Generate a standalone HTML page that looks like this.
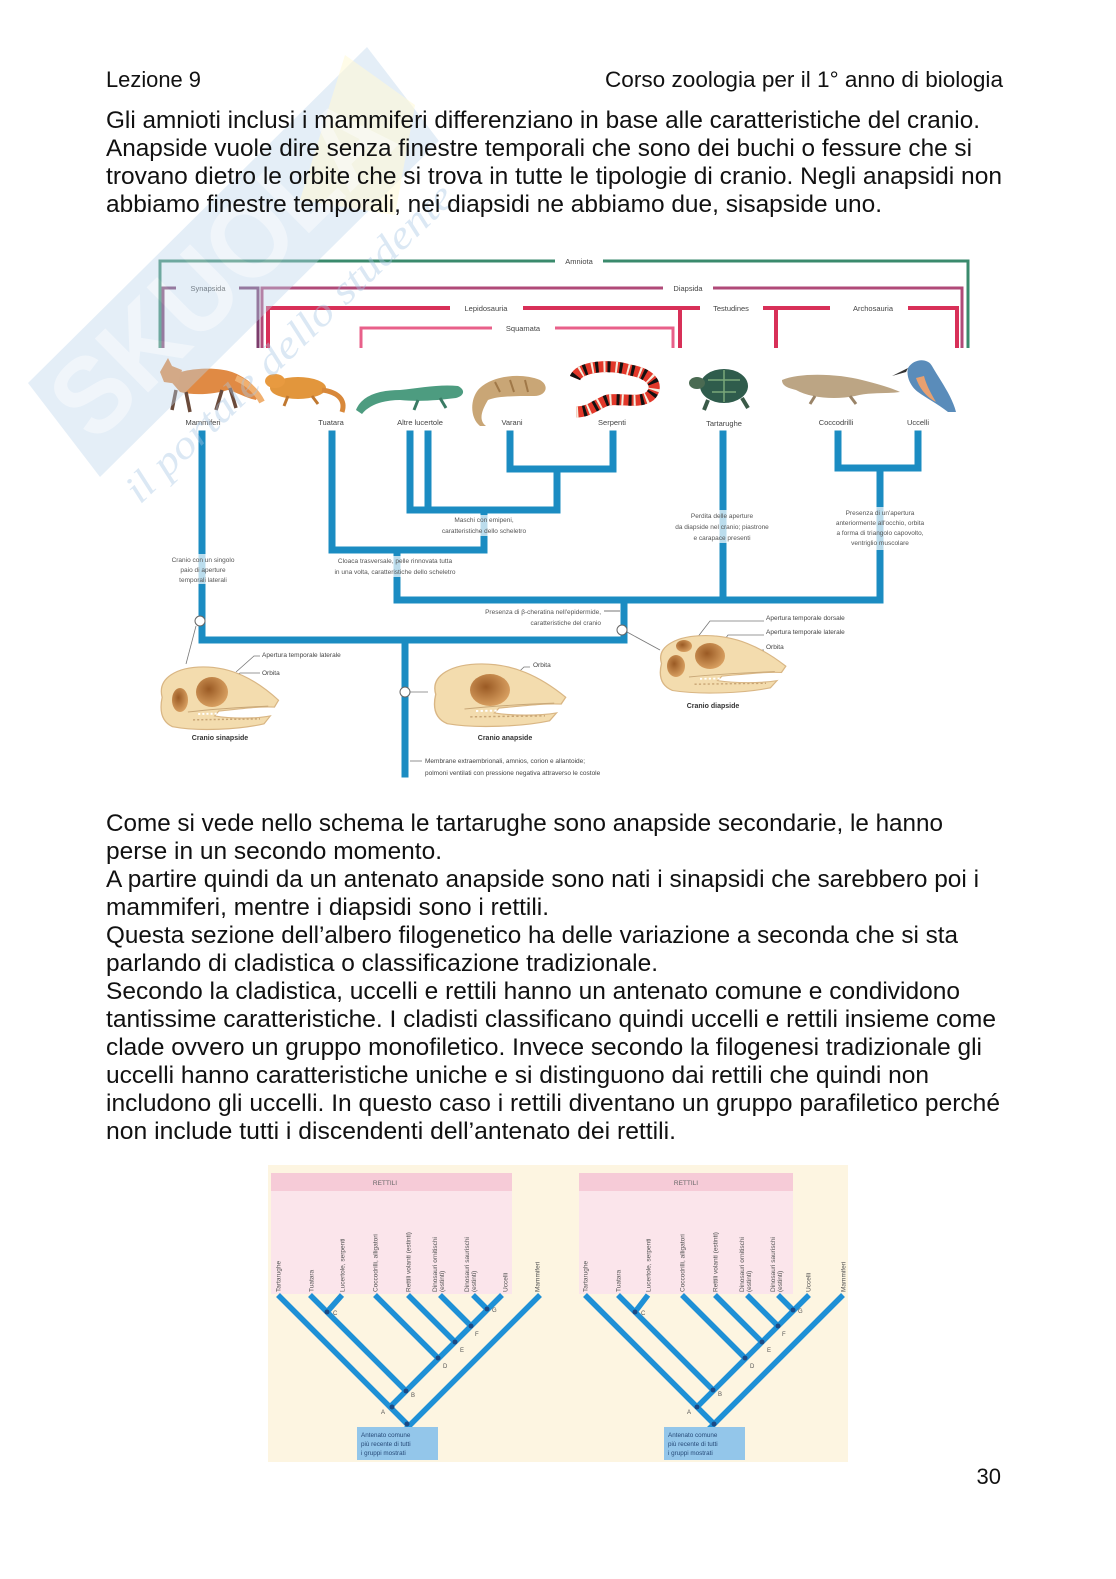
<!DOCTYPE html>
<html><head><meta charset="utf-8">
<style>
html,body{margin:0;padding:0;background:#fff;}
body{width:1116px;height:1579px;position:relative;overflow:hidden;}
svg{position:absolute;left:0;top:0;}
.t{font-family:"Liberation Sans",Arial,sans-serif;fill:#111;}
.s{font-family:"Liberation Sans",Arial,sans-serif;fill:#444;font-size:7.5px;}
.b{font-family:"Liberation Sans",Arial,sans-serif;fill:#333;font-size:7.5px;font-weight:bold;}
.c{font-family:"Liberation Sans",Arial,sans-serif;fill:#555;font-size:6.5px;}
</style></head>
<body>
<svg width="1116" height="1579" viewBox="0 0 1116 1579" xmlns="http://www.w3.org/2000/svg">
<defs>
<radialGradient id="orb" cx="0.4" cy="0.4" r="0.7">
<stop offset="0" stop-color="#9a5a24"/><stop offset="1" stop-color="#e0a868"/>
</radialGradient>
<g id="skull">
<path d="M5,35 C0,15 20,4 45,4 C72,4 95,16 118,38 L114,45 C100,44 80,47 60,49 L56,54 C72,57 95,57 110,54 L104,62 C80,68 40,70 15,65 C5,60 2,50 5,35 Z" fill="#f3dcae" stroke="#d9b684" stroke-width="1.2"/>
<path d="M30,50 C55,47 85,45 108,44" stroke="#c9a878" stroke-width="1" fill="none"/>
<path d="M40,52 L95,51" stroke="#fff" stroke-width="2" stroke-dasharray="2,2" fill="none"/>
<path d="M35,58 L100,57" stroke="#c8a474" stroke-width="1.5" stroke-dasharray="2,2" fill="none"/>
</g>
</defs>

<!-- ===== Diagram 1: brackets ===== -->
<g fill="none" stroke-linecap="butt">
<path d="M160,348 V261 H555 M603,261 H968 V348" stroke="#3a8a6c" stroke-width="3"/>
<path d="M163,348 V288 H176 M239,288 H258 V348" stroke="#7c3c6c" stroke-width="3"/>
<path d="M262,348 V288 H663 M713,288 H962 V348" stroke="#b04a78" stroke-width="3"/>
<path d="M268,348 V308 H450 M523,308 H680 V348" stroke="#d83058" stroke-width="4"/>
<path d="M361,348 V328 H492 M555,328 H673 V348" stroke="#e8608a" stroke-width="3"/>
<path d="M680,308 H700 M763,308 H830 M776,308 V348 M908,308 H957 V348" stroke="#d83058" stroke-width="4"/>
</g>
<text class="s" x="579" y="264" text-anchor="middle">Amniota</text>
<text class="s" x="208" y="291" text-anchor="middle">Synapsida</text>
<text class="s" x="688" y="291" text-anchor="middle">Diapsida</text>
<text class="s" x="486" y="311" text-anchor="middle">Lepidosauria</text>
<text class="s" x="523" y="331" text-anchor="middle">Squamata</text>
<text class="s" x="731" y="311" text-anchor="middle">Testudines</text>
<text class="s" x="873" y="311" text-anchor="middle">Archosauria</text>

<!-- animals -->
<g>
<path d="M168,378 C180,368 215,366 232,372 C248,378 262,390 256,400 C246,398 236,392 228,390 C215,394 195,396 180,392 Z" fill="#e08a44"/>
<path d="M160,372 L168,358 L172,366 L182,370 L178,384 L164,382 Z" fill="#e38c44"/>
<path d="M176,390 L172,410 M186,392 L190,412 M222,390 L216,410 M230,388 L236,408" stroke="#6a4a3a" stroke-width="3.5"/>
<path d="M236,378 C250,384 258,394 262,402" stroke="#f0b070" stroke-width="6" fill="none"/>
</g>
<g>
<ellipse cx="298" cy="388" rx="28" ry="11" fill="#e2963c"/>
<ellipse cx="275" cy="381" rx="10" ry="7" fill="#e89a40"/>
<path d="M322,390 C338,392 346,400 342,412" stroke="#d8883a" stroke-width="5" fill="none"/>
<path d="M288,396 L284,406 M312,396 L318,404" stroke="#c07830" stroke-width="3"/>
</g>
<g>
<path d="M356,410 C362,395 380,390 400,390 C420,388 440,384 458,386 C466,390 464,396 456,398 C440,400 420,402 400,400 C385,400 370,404 362,414 Z" fill="#4d9c80"/>
<path d="M418,400 L414,410 M440,398 L446,408" stroke="#3a7a64" stroke-width="3"/>
</g>
<g>
<path d="M478,390 C490,376 520,372 540,380 C550,386 546,396 534,396 C515,396 498,396 488,400 C482,410 478,420 486,426 L480,426 C470,418 470,400 478,390 Z" fill="#c9a676"/>
<path d="M495,382 L500,392 M510,380 L514,392 M525,380 L528,392" stroke="#a07848" stroke-width="2"/>
</g>
<g>
<path d="M575,378 C580,366 610,364 630,370 C652,374 660,386 650,396 C640,404 620,398 608,400 C596,404 590,412 576,412" stroke="#e2382a" stroke-width="11" fill="none"/>
<path d="M575,378 C580,366 610,364 630,370 C652,374 660,386 650,396 C640,404 620,398 608,400 C596,404 590,412 576,412" stroke="#111" stroke-width="11" fill="none" stroke-dasharray="3,9"/>
<path d="M575,378 C580,366 610,364 630,370 C652,374 660,386 650,396 C640,404 620,398 608,400 C596,404 590,412 576,412" stroke="#f4eee0" stroke-width="11" fill="none" stroke-dasharray="2,10" stroke-dashoffset="4"/>
</g>
<g>
<ellipse cx="724" cy="386" rx="24" ry="17" fill="#2f5c4c"/>
<path d="M708,380 L740,380 M712,392 L736,392 M724,370 L724,402" stroke="#7aa87a" stroke-width="1.5"/>
<ellipse cx="697" cy="383" rx="8" ry="6" fill="#4a6a52"/>
<path d="M708,400 L704,410 M742,398 L748,408" stroke="#3a5a48" stroke-width="4"/>
</g>
<g>
<path d="M782,380 C800,372 840,374 862,380 C878,384 892,388 900,392 C885,394 870,392 855,396 C835,400 810,398 796,390 C788,388 782,386 782,380 Z" fill="#bca584"/>
<path d="M815,396 L810,404 M850,396 L856,404" stroke="#9a8468" stroke-width="3"/>
</g>
<g>
<path d="M908,368 C914,358 928,358 932,366 C940,380 952,396 956,412 L948,412 C938,404 926,398 918,392 C910,386 906,376 908,368 Z" fill="#5a8cba"/>
<path d="M916,378 C920,390 928,398 936,402 C930,392 926,384 924,376 Z" fill="#e8a070"/>
<path d="M908,368 L892,376 L906,372 Z" fill="#333"/>
</g>

<g text-anchor="middle">
<text class="s" x="203" y="425">Mammiferi</text>
<text class="s" x="331" y="425">Tuatara</text>
<text class="s" x="420" y="425">Altre lucertole</text>
<text class="s" x="512" y="425">Varani</text>
<text class="s" x="612" y="425">Serpenti</text>
<text class="s" x="724" y="426">Tartarughe</text>
<text class="s" x="836" y="425">Coccodrilli</text>
<text class="s" x="918" y="425">Uccelli</text>
</g>

<!-- blue tree -->
<g stroke="#1b8cc2" stroke-width="7" fill="none" stroke-linecap="square">
<path d="M202,434 V640 H624 V601"/>
<path d="M332,434 V550 H484 V511"/>
<path d="M410,434 V510 H557 V470"/>
<path d="M428,434 V510"/>
<path d="M510,434 V469 H613 V434"/>
<path d="M397,550 V600 H880 V468"/>
<path d="M838,434 V468 H918 V434"/>
<path d="M723,434 V600"/>
<path d="M405,640 V774"/>
</g>

<g fill="#fff" opacity="0.7">
<rect x="160" y="554" width="88" height="30"/>
<rect x="300" y="556" width="190" height="21"/>
<rect x="415" y="515" width="140" height="21"/>
<rect x="650" y="510" width="145" height="33"/>
<rect x="808" y="507" width="145" height="43"/>
</g>
<g class="c" text-anchor="middle">
<text x="484" y="522">Maschi con emipeni,</text>
<text x="484" y="533">caratteristiche dello scheletro</text>
<text x="395" y="563">Cloaca trasversale, pelle rinnovata tutta</text>
<text x="395" y="574">in una volta, caratteristiche dello scheletro</text>
<text x="203" y="562">Cranio con un singolo</text>
<text x="203" y="572">paio di aperture</text>
<text x="203" y="582">temporali laterali</text>
<text x="722" y="518">Perdita delle aperture</text>
<text x="722" y="529">da diapside nel cranio; piastrone</text>
<text x="722" y="540">e carapace presenti</text>
<text x="880" y="515">Presenza di un'apertura</text>
<text x="880" y="525">anteriormente all'occhio, orbita</text>
<text x="880" y="535">a forma di triangolo capovolto,</text>
<text x="880" y="545">ventriglio muscolare</text>
</g>
<g class="c" text-anchor="end">
<text x="601" y="614">Presenza di β-cheratina nell'epidermide,</text>
<text x="601" y="625">caratteristiche del cranio</text>
</g>
<path d="M604,611 H620" stroke="#555" stroke-width="0.8"/>

<g fill="#fff" stroke="#666" stroke-width="1">
<circle cx="200" cy="621" r="5"/>
<circle cx="405" cy="692" r="5"/>
<circle cx="622" cy="630" r="5"/>
</g>
<g stroke="#777" stroke-width="0.8" fill="none">
<path d="M196,626 L186,664"/>
<path d="M410,692 H428"/>
<path d="M627,632 L660,650"/>
<path d="M236,672 L254,656 H260"/>
<path d="M218,686 L240,673 H260"/>
<path d="M500,690 L524,667 H530"/>
<path d="M680,660 L710,621 H764"/>
<path d="M706,665 L728,635 H764"/>
<path d="M722,668 L740,650 H764"/>
<path d="M410,761 H422"/>
</g>

<use href="#skull" transform="translate(157,663) scale(1.03,0.98)"/>
<ellipse cx="180" cy="700" rx="8" ry="12" fill="url(#orb)"/>
<ellipse cx="212" cy="692" rx="16" ry="15" fill="url(#orb)"/>
<use href="#skull" transform="translate(430,660) scale(1.15,0.98)"/>
<ellipse cx="490" cy="690" rx="20" ry="16" fill="url(#orb)"/>
<use href="#skull" transform="translate(656,632) scale(1.1,0.9)"/>
<ellipse cx="676" cy="666" rx="9" ry="11" fill="url(#orb)"/>
<ellipse cx="684" cy="646" rx="8" ry="6" fill="url(#orb)"/>
<ellipse cx="710" cy="656" rx="15" ry="13" fill="url(#orb)"/>

<g class="c" style="fill:#444">
<text x="262" y="657">Apertura temporale laterale</text>
<text x="262" y="675">Orbita</text>
<text x="533" y="667">Orbita</text>
<text x="766" y="620">Apertura temporale dorsale</text>
<text x="766" y="634">Apertura temporale laterale</text>
<text x="766" y="649">Orbita</text>
<text x="425" y="763">Membrane extraembrionali, amnios, corion e allantoide;</text>
<text x="425" y="775">polmoni ventilati con pressione negativa attraverso le costole</text>
</g>
<g text-anchor="middle">
<text class="b" x="220" y="740" style="font-size:7px">Cranio sinapside</text>
<text class="b" x="505" y="740" style="font-size:7px">Cranio anapside</text>
<text class="b" x="713" y="708" style="font-size:7px">Cranio diapside</text>
</g>

<!-- ===== Diagram 2 ===== -->
<rect x="268" y="1165" width="580" height="297" fill="#fdf5e1"/>
<rect x="271" y="1191" width="241" height="103" fill="#fbe5eb"/>
<rect x="271" y="1173" width="241" height="18" fill="#f6cbd7"/>
<rect x="579" y="1191" width="214" height="103" fill="#fbe5eb"/>
<rect x="579" y="1173" width="214" height="18" fill="#f6cbd7"/>
<text class="c" x="385" y="1185" text-anchor="middle" style="fill:#666">RETTILI</text>
<text class="c" x="686" y="1185" text-anchor="middle" style="fill:#666">RETTILI</text>

<g stroke="#1e90d6" stroke-width="5.5" fill="none">
<path d="M278,1295 L407,1424"/>
<path d="M540,1295 L396,1439"/>
<path d="M390,1407 L502,1295"/>
<path d="M310,1295 L406,1391"/>
<path d="M342,1295 L327,1312"/>
<path d="M375,1295 L438,1358"/>
<path d="M408,1295 L455,1342"/>
<path d="M440,1295 L471,1326"/>
<path d="M473,1295 L487,1309"/>

<path d="M585,1295 L714,1424"/>
<path d="M843,1295 L700,1438"/>
<path d="M697,1407 L809,1295"/>
<path d="M618,1295 L713,1390"/>
<path d="M648,1295 L635,1312"/>
<path d="M682,1295 L745,1358"/>
<path d="M715,1295 L762,1342"/>
<path d="M747,1295 L778,1326"/>
<path d="M778,1295 L793,1310"/>
</g>
<g fill="#1a4a86">
<circle cx="392" cy="1407" r="2.5"/><circle cx="406" cy="1391" r="2.5"/><circle cx="327" cy="1312" r="2.5"/>
<circle cx="438" cy="1358" r="2.5"/><circle cx="455" cy="1342" r="2.5"/><circle cx="471" cy="1326" r="2.5"/><circle cx="487" cy="1309" r="2.5"/><circle cx="407" cy="1424" r="2.5"/>
<circle cx="697" cy="1407" r="2.5"/><circle cx="713" cy="1390" r="2.5"/><circle cx="635" cy="1312" r="2.5"/>
<circle cx="745" cy="1358" r="2.5"/><circle cx="762" cy="1342" r="2.5"/><circle cx="778" cy="1326" r="2.5"/><circle cx="793" cy="1310" r="2.5"/><circle cx="714" cy="1424" r="2.5"/>
</g>
<g class="c" style="font-size:6px;fill:#555">
<text x="381" y="1414">A</text><text x="411" y="1397">B</text><text x="333" y="1315">C</text>
<text x="443" y="1368">D</text><text x="460" y="1352">E</text><text x="475" y="1336">F</text><text x="492" y="1312">G</text>
<text x="687" y="1414">A</text><text x="718" y="1396">B</text><text x="641" y="1315">C</text>
<text x="750" y="1368">D</text><text x="767" y="1352">E</text><text x="782" y="1336">F</text><text x="798" y="1313">G</text>
</g>
<g class="c" style="font-size:6.5px;fill:#555">
<text transform="translate(280.5,1292) rotate(-90)">Tartarughe</text>
<text transform="translate(313.5,1292) rotate(-90)">Tuatara</text>
<text transform="translate(344.5,1292) rotate(-90)">Lucertole, serpenti</text>
<text transform="translate(377.5,1292) rotate(-90)">Coccodrilli, alligatori</text>
<text transform="translate(410.5,1292) rotate(-90)">Rettili volanti (estinti)</text>
<text transform="translate(437,1292) rotate(-90)">Dinosauri ornitischi</text>
<text transform="translate(444,1292) rotate(-90)">(estinti)</text>
<text transform="translate(469,1292) rotate(-90)">Dinosauri saurischi</text>
<text transform="translate(476,1292) rotate(-90)">(estinti)</text>
<text transform="translate(507.5,1292) rotate(-90)">Uccelli</text>
<text transform="translate(539.5,1292) rotate(-90)">Mammiferi</text>

<text transform="translate(587.5,1292) rotate(-90)">Tartarughe</text>
<text transform="translate(620.5,1292) rotate(-90)">Tuatara</text>
<text transform="translate(650.5,1292) rotate(-90)">Lucertole, serpenti</text>
<text transform="translate(684.5,1292) rotate(-90)">Coccodrilli, alligatori</text>
<text transform="translate(717.5,1292) rotate(-90)">Rettili volanti (estinti)</text>
<text transform="translate(744,1292) rotate(-90)">Dinosauri ornitischi</text>
<text transform="translate(751,1292) rotate(-90)">(estinti)</text>
<text transform="translate(775,1292) rotate(-90)">Dinosauri saurischi</text>
<text transform="translate(782,1292) rotate(-90)">(estinti)</text>
<text transform="translate(810.5,1292) rotate(-90)">Uccelli</text>
<text transform="translate(845.5,1292) rotate(-90)">Mammiferi</text>
</g>
<rect x="357" y="1427" width="81" height="33" fill="#93c6ea"/>
<rect x="664" y="1427" width="81" height="33" fill="#93c6ea"/>
<g class="c" style="font-size:6.3px;fill:#274a78">
<text x="361" y="1437">Antenato comune</text><text x="361" y="1446">più recente di tutti</text><text x="361" y="1455">i gruppi mostrati</text>
<text x="668" y="1437">Antenato comune</text><text x="668" y="1446">più recente di tutti</text><text x="668" y="1455">i gruppi mostrati</text>
</g>

<!-- ===== watermark ===== -->
<g opacity="0.4">
<polygon points="28,383 367,47 439,141 100,477" fill="#bcd5ec"/>
<polygon points="300,200 345,55 415,105 395,215" fill="#fff0a0" opacity="0.6"/>
<text transform="translate(95,445) rotate(-44.7)" style="font-family:'Liberation Sans',sans-serif;font-weight:bold;font-size:110px;fill:#ffffff;opacity:0.45" textLength="430" lengthAdjust="spacingAndGlyphs">SKUOLA</text>
<text transform="translate(140,505) rotate(-44)" style="font-family:'Liberation Serif',serif;font-style:italic;font-size:40px;fill:#a8c6e4" textLength="440" lengthAdjust="spacingAndGlyphs">il portale dello studente</text>
</g>

<!-- ===== Body text ===== -->
<text class="t" x="106" y="87" style="font-size:22.5px" textLength="95" lengthAdjust="spacingAndGlyphs">Lezione 9</text>
<text class="t" x="605" y="87" style="font-size:22.5px" textLength="398" lengthAdjust="spacingAndGlyphs">Corso zoologia per il 1° anno di biologia</text>

<g class="t" style="font-size:24.5px">
<text x="106" y="128" textLength="874" lengthAdjust="spacingAndGlyphs">Gli amnioti inclusi i mammiferi differenziano in base alle caratteristiche del cranio.</text>
<text x="106" y="156" textLength="866" lengthAdjust="spacingAndGlyphs">Anapside vuole dire senza finestre temporali che sono dei buchi o fessure che si</text>
<text x="106" y="184" textLength="896" lengthAdjust="spacingAndGlyphs">trovano dietro le orbite che si trova in tutte le tipologie di cranio. Negli anapsidi non</text>
<text x="106" y="212" textLength="776" lengthAdjust="spacingAndGlyphs">abbiamo finestre temporali, nei diapsidi ne abbiamo due, sisapside uno.</text>

<text x="106" y="831" textLength="837" lengthAdjust="spacingAndGlyphs">Come si vede nello schema le tartarughe sono anapside secondarie, le hanno</text>
<text x="106" y="859" textLength="336" lengthAdjust="spacingAndGlyphs">perse in un secondo momento.</text>
<text x="106" y="887" textLength="873" lengthAdjust="spacingAndGlyphs">A partire quindi da un antenato anapside sono nati i sinapsidi che sarebbero poi i</text>
<text x="106" y="915" textLength="443" lengthAdjust="spacingAndGlyphs">mammiferi, mentre i diapsidi sono i rettili.</text>
<text x="106" y="943" textLength="852" lengthAdjust="spacingAndGlyphs">Questa sezione dell’albero filogenetico ha delle variazione a seconda che si sta</text>
<text x="106" y="971" textLength="552" lengthAdjust="spacingAndGlyphs">parlando di cladistica o classificazione tradizionale.</text>
<text x="106" y="999" textLength="854" lengthAdjust="spacingAndGlyphs">Secondo la cladistica, uccelli e rettili hanno un antenato comune e condividono</text>
<text x="106" y="1027" textLength="890" lengthAdjust="spacingAndGlyphs">tantissime caratteristiche. I cladisti classificano quindi uccelli e rettili insieme come</text>
<text x="106" y="1055" textLength="876" lengthAdjust="spacingAndGlyphs">clade ovvero un gruppo monofiletico. Invece secondo la filogenesi tradizionale gli</text>
<text x="106" y="1083" textLength="823" lengthAdjust="spacingAndGlyphs">uccelli hanno caratteristiche uniche e si distinguono dai rettili che quindi non</text>
<text x="106" y="1111" textLength="894" lengthAdjust="spacingAndGlyphs">includono gli uccelli. In questo caso i rettili diventano un gruppo parafiletico perché</text>
<text x="106" y="1139" textLength="570" lengthAdjust="spacingAndGlyphs">non include tutti i discendenti dell’antenato dei rettili.</text>
</g>
<text class="t" x="1001" y="1484" text-anchor="end" style="font-size:22px">30</text>
</svg>
</body></html>
